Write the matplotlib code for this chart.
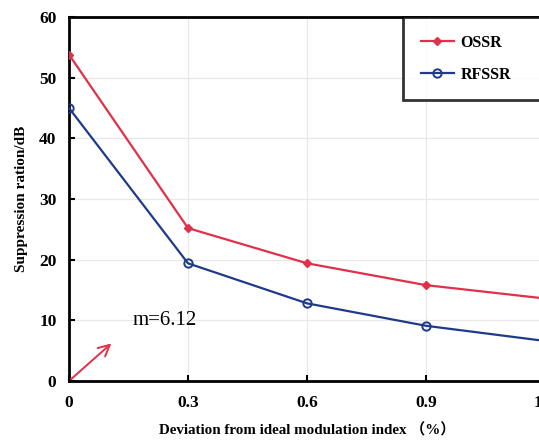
import matplotlib.pyplot as plt

# data
deviation = [0, 0.3, 0.6, 0.9, 1.2]
ossr = [53.8, 25.2, 19.4, 15.8, 13.6]
rfssr = [45.0, 19.4, 12.8, 9.1, 6.6]
x_ticks = [0, 0.3, 0.6, 0.9, 1.2]
x_tick_labels = ["0", "0.3", "0.6", "0.9", "1.2"]
y_ticks = [0, 10, 20, 30, 40, 50, 60]

serif = ["Liberation Serif", "Noto Sans CJK SC", "DejaVu Serif"]


def main():
    plt.rcParams["font.family"] = serif
    fig = plt.figure(figsize=(5.39, 4.43), dpi=100)
    # axes runs past the right edge like in the cropped original
    ax = fig.add_axes([69 / 539, 1 - 381 / 443, (545 - 69) / 539, 364 / 443])

    ax.plot(deviation, ossr, color="#e0304a", lw=1.6, marker="D", ms=4.5,
            mfc="#e0304a", mec="#e0304a", label="OSSR", zorder=3)
    ax.plot(deviation, rfssr, color="#1f3a8a", lw=1.6, marker="o", ms=6,
            mfc="none", mec="#1f3a8a", mew=1.4, label="RFSSR", zorder=3)

    ax.set_xlim(0, 1.2)
    ax.set_ylim(0, 60)
    ax.set_xticks(x_ticks)
    ax.set_xticklabels(x_tick_labels)
    ax.set_yticks(y_ticks)
    ax.grid(True, color="#e8e8e8", lw=0.9, zorder=0)
    ax.tick_params(direction="in", length=4, width=1.5, labelsize=12.5)
    ax.tick_params(axis="x", pad=10)
    ax.tick_params(axis="y", pad=9)
    for lab in ax.get_xticklabels() + ax.get_yticklabels():
        lab.set_fontweight("bold")
    for sp in ax.spines.values():
        sp.set_linewidth(2)
        sp.set_color("black")

    ax.set_xlabel("Deviation from ideal modulation index （%）",
                  fontsize=10.8, fontweight="bold", labelpad=9)
    ax.set_ylabel("Suppression ration/dB", fontsize=11, fontweight="bold",
                  labelpad=8)

    ax.annotate("", xy=(0.112, 6.5), xytext=(0, 0),
                arrowprops=dict(arrowstyle="->", color="#e0304a", lw=1.4,
                                mutation_scale=20))
    ax.text(0.16, 9.9, "m=6.12", fontsize=15, va="center", ha="left")

    leg = fig.legend(loc="upper left", bbox_to_anchor=(403 / 539, 1 - 17 / 443 - 0.01, 0.3, 0.01),
                     mode="expand", prop={"weight": "bold", "size": 11.5},
                     frameon=True, fancybox=False, borderpad=1.1, labelspacing=1.0,
                     handlelength=2.1, handletextpad=0.4, borderaxespad=0)
    frame = leg.get_frame()
    frame.set_edgecolor("black")
    frame.set_linewidth(2)

    fig.savefig("out.png", dpi=100)


if __name__ == "__main__":
    main()
